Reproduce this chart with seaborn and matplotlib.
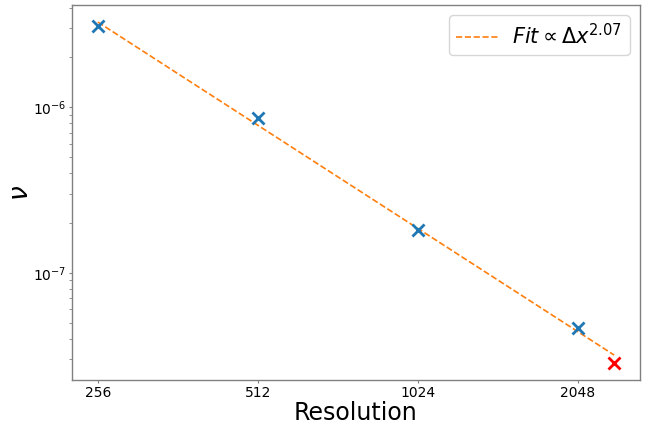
import numpy as np
import pandas as pd
import matplotlib
matplotlib.use("Agg")
import matplotlib.pyplot as plt
import seaborn as sns

# data
resolution = [256, 512, 1024, 2048]
nu = [3.10e-6, 8.6e-7, 1.80e-7, 4.65e-8]
pred_resolution = [2400]
pred_nu = [2.85e-8]
fit_resolution = [256, 2400]
fit_nu = [3.27e-6, 3.18e-8]
fit_exponent = "2.07"
xtick_vals = [256, 512, 1024, 2048]

sns.set_style("white")
plt.rcParams['font.family'] = ['DejaVu Sans']
plt.rcParams['text.color'] = 'black'
plt.rcParams['axes.labelcolor'] = 'black'
plt.rcParams['xtick.labelcolor'] = 'black'
plt.rcParams['ytick.labelcolor'] = 'black'

fig = plt.figure(figsize=(6.56, 4.25), dpi=100)
ax = fig.add_axes([72/656, 1-380/425, (640-72)/656, (380-5)/425])

df = pd.DataFrame({"res": resolution, "nu": nu})
dfp = pd.DataFrame({"res": pred_resolution, "nu": pred_nu})
dff = pd.DataFrame({"res": fit_resolution, "nu": fit_nu})

sns.scatterplot(data=df, x="res", y="nu", marker="x", s=75, color="#1f77b4",
                linewidth=2, ax=ax, zorder=3)
sns.scatterplot(data=dfp, x="res", y="nu", marker="x", s=75, color="red",
                linewidth=2, ax=ax, zorder=3)
sns.lineplot(data=dff, x="res", y="nu", color="#ff7f0e", linestyle="--",
             linewidth=1.2, ax=ax, label=r"$Fit \propto \Delta x^{%s}$" % fit_exponent)

ax.set_xscale("log", base=2)
ax.set_yscale("log")
ax.set_xticks(xtick_vals)
ax.set_xticklabels([str(v) for v in xtick_vals])
ax.xaxis.set_minor_locator(matplotlib.ticker.NullLocator())
ax.margins(x=0.05, y=0.05)

ax.set_xlabel("Resolution", fontsize=17, labelpad=1)
ax.set_ylabel(r"$\nu$", fontsize=19, labelpad=-1)
ax.tick_params(axis="both", which="major", labelsize=10, length=2.5, pad=1.5,
               color="gray", bottom=True, left=True)
ax.tick_params(axis="y", which="minor", length=2, color="gray", left=True)
for s in ax.spines.values():
    s.set_color("gray")
    s.set_linewidth(1.0)

leg = ax.legend(loc="upper right", fontsize=15, handlelength=2.0,
                borderpad=0.35, handletextpad=0.7)

fig.savefig("out.png", dpi=100)
